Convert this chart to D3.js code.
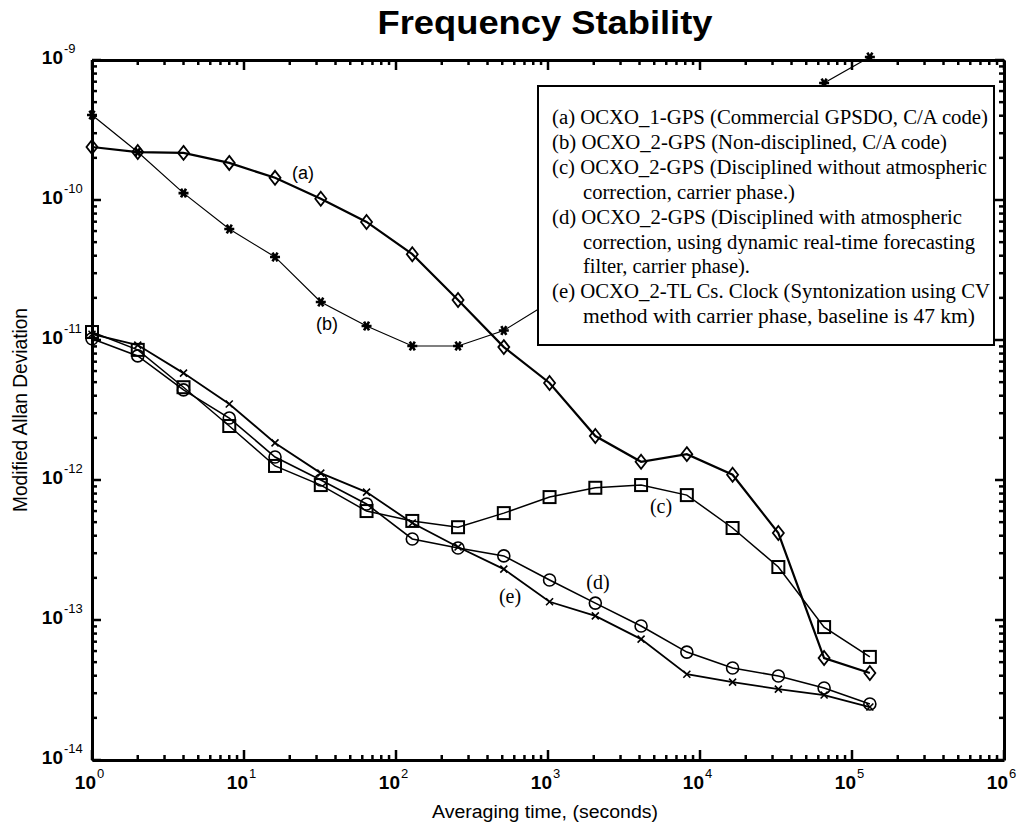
<!DOCTYPE html>
<html><head><meta charset="utf-8">
<script src="https://cdn.jsdelivr.net/npm/d3@7"></script>
<style>body{margin:0;background:#fff}svg{display:block}</style>
</head><body>
<svg id="c" width="1019" height="829"></svg>
<script>
// ---------------- data ----------------
const tau = [1,2,4,8,16,32,64,128,256,512,1024,2048,4096,8192,16384,32768,65536,131072];
const seriesA = [2.39e-10,2.2e-10,2.17e-10,1.84e-10,1.44e-10,1.02e-10,6.97e-11,4.1e-11,1.93e-11,8.9e-12,4.93e-12,2.06e-12,1.35e-12,1.53e-12,1.09e-12,4.18e-13,5.35e-14,4.18e-14];
const seriesB = [4.05e-10,2.2e-10,1.12e-10,6.2e-11,3.92e-11,1.87e-11,1.26e-11,9.06e-12,9.06e-12,1.17e-11,1.86e-11,3.0e-11,5.0e-11,9.0e-11,1.6e-10,3.0e-10,6.85e-10,1.05e-9];
const seriesC = [1.14e-11,8.5e-12,4.6e-12,2.43e-12,1.26e-12,9.2e-13,6.0e-13,5.1e-13,4.6e-13,5.8e-13,7.55e-13,8.8e-13,9.2e-13,7.8e-13,4.54e-13,2.39e-13,8.9e-14,5.45e-14];
const seriesD = [1.02e-11,7.7e-12,4.4e-12,2.77e-12,1.46e-12,1.0e-12,6.74e-13,3.79e-13,3.27e-13,2.87e-13,1.93e-13,1.32e-13,9.06e-14,5.9e-14,4.54e-14,3.98e-14,3.27e-14,2.51e-14];
const seriesE = [1.1e-11,9.2e-12,5.8e-12,3.49e-12,1.84e-12,1.12e-12,8.2e-13,4.93e-13,3.32e-13,2.31e-13,1.35e-13,1.07e-13,7.3e-14,4.1e-14,3.6e-14,3.21e-14,2.91e-14,2.39e-14];
const xExponents = [0,1,2,3,4,5,6];
const yExponents = [-14,-13,-12,-11,-10,-9];
const seriesNames = ["(a)","(b)","(c)","(d)","(e)"];
const legendLines = [
  "(a) OCXO_1-GPS (Commercial GPSDO, C/A code)",
  "(b) OCXO_2-GPS (Non-disciplined, C/A code)",
  "(c) OCXO_2-GPS (Disciplined without atmospheric",
  "correction, carrier phase.)",
  "(d) OCXO_2-GPS (Disciplined with atmospheric",
  "correction, using dynamic real-time forecasting",
  "filter, carrier phase).",
  "(e) OCXO_2-TL Cs. Clock (Syntonization using CV",
  "method  with carrier  phase, baseline is 47 km)"
];
const titleText = "Frequency Stability";
const xLabel = "Averaging time, (seconds)";
const yLabel = "Modified Allan Deviation";

// ---------------- layout ----------------
const L=92, R=1004, T=60, B=760;
const svg = d3.select("#c");
const x = d3.scaleLog().domain([1,1e6]).range([L,R]);
const y = d3.scaleLog().domain([1e-14,1e-9]).range([B,T]);

const xMaj = xExponents.map(e=>Math.pow(10,e));
const yMaj = yExponents.map(e=>Math.pow(10,e));
const xMin=[], yMin=[];
xExponents.slice(0,-1).forEach(e=>{for(let k=2;k<10;k++) xMin.push(k*Math.pow(10,e));});
yExponents.slice(0,-1).forEach(e=>{for(let k=2;k<10;k++) yMin.push(k*Math.pow(10,e));});

// axes frame via d3 axis generators (domain lines)
function styleAxis(g){
  g.selectAll("path.domain").attr("stroke","#000").attr("stroke-width",3);
  g.selectAll(".tick").remove();
}
svg.append("g").attr("transform",`translate(0,${B})`).call(d3.axisBottom(x).tickValues([]).tickSizeOuter(0)).call(styleAxis);
svg.append("g").attr("transform",`translate(0,${T})`).call(d3.axisTop(x).tickValues([]).tickSizeOuter(0)).call(styleAxis);
svg.append("g").attr("transform",`translate(${L},0)`).call(d3.axisLeft(y).tickValues([]).tickSizeOuter(0)).call(styleAxis);
svg.append("g").attr("transform",`translate(${R},0)`).call(d3.axisRight(y).tickValues([]).tickSizeOuter(0)).call(styleAxis);

// inward ticks on all four sides
const tg = svg.append("g").attr("stroke","#000").attr("stroke-width",2.5);
function xTicks(vals,len){
  vals.forEach(v=>{
    const px=x(v);
    tg.append("line").attr("x1",px).attr("x2",px).attr("y1",B).attr("y2",B-len);
    tg.append("line").attr("x1",px).attr("x2",px).attr("y1",T).attr("y2",T+len);
  });
}
function yTicks(vals,len){
  vals.forEach(v=>{
    const py=y(v);
    tg.append("line").attr("x1",L).attr("x2",L+len).attr("y1",py).attr("y2",py);
    tg.append("line").attr("x1",R).attr("x2",R-len).attr("y1",py).attr("y2",py);
  });
}
xTicks(xMaj,10); xTicks(xMin,5);
yTicks(yMaj,9); yTicks(yMin,5);

const sans = "'Liberation Sans', Arial, sans-serif";
const serif = "'Liberation Serif', 'Times New Roman', serif";

// x tick labels
xExponents.forEach(e=>{
  const px = x(Math.pow(10,e));
  svg.append("text").attr("x",px+4).attr("y",789).attr("text-anchor","end")
    .attr("font-family",sans).attr("font-weight","bold").attr("font-size",19).text("10");
  svg.append("text").attr("x",px+5).attr("y",778).attr("font-family",sans)
    .attr("font-size",13).text(String(e));
});
// y tick labels
yExponents.forEach(e=>{
  const py = y(Math.pow(10,e));
  svg.append("text").attr("x",63).attr("y",py+4).attr("text-anchor","end")
    .attr("font-family",sans).attr("font-weight","bold").attr("font-size",19).text("10");
  svg.append("text").attr("x",64).attr("y",py-7).attr("font-family",sans)
    .attr("font-size",13).text(String(e));
});

// title and axis labels
svg.append("text").attr("x",545).attr("y",34).attr("text-anchor","middle")
  .attr("font-family",sans).attr("font-weight","bold").attr("font-size",34)
  .attr("textLength",335).attr("lengthAdjust","spacingAndGlyphs").text(titleText);
svg.append("text").attr("x",545).attr("y",818).attr("text-anchor","middle")
  .attr("font-family",sans).attr("font-size",18)
  .attr("textLength",226).attr("lengthAdjust","spacingAndGlyphs").text(xLabel);
svg.append("text").attr("transform","translate(27,410) rotate(-90)").attr("text-anchor","middle")
  .attr("font-family",sans).attr("font-size",20)
  .attr("textLength",204).attr("lengthAdjust","spacingAndGlyphs").text(yLabel);

// ---------------- series ----------------
const line = d3.line().x(d=>x(d[0])).y(d=>y(d[1]));
function zip(v){return tau.map((t,i)=>[t,v[i]]);}

const markers = {
  diamond:(g,p)=>g.append("path").attr("d",`M${p[0]},${p[1]-7}L${p[0]+5.5},${p[1]}L${p[0]},${p[1]+7}L${p[0]-5.5},${p[1]}Z`).attr("fill","none").attr("stroke","#000").attr("stroke-width",1.8),
  star:(g,p)=>{const s=5;
    g.append("path").attr("d",`M${p[0]-s},${p[1]}L${p[0]+s},${p[1]}M${p[0]-s*0.5},${p[1]-s*0.87}L${p[0]+s*0.5},${p[1]+s*0.87}M${p[0]-s*0.5},${p[1]+s*0.87}L${p[0]+s*0.5},${p[1]-s*0.87}`)
      .attr("stroke","#000").attr("stroke-width",2.6).attr("fill","none");},
  square:(g,p)=>g.append("rect").attr("x",p[0]-6).attr("y",p[1]-6).attr("width",12).attr("height",12).attr("fill","none").attr("stroke","#000").attr("stroke-width",2),
  circle:(g,p)=>g.append("circle").attr("cx",p[0]).attr("cy",p[1]).attr("r",6).attr("fill","none").attr("stroke","#000").attr("stroke-width",1.6),
  cross:(g,p)=>g.append("path").attr("d",`M${p[0]-3.5},${p[1]-3.5}L${p[0]+3.5},${p[1]+3.5}M${p[0]-3.5},${p[1]+3.5}L${p[0]+3.5},${p[1]-3.5}`).attr("stroke","#000").attr("stroke-width",1.6)
};
const seriesDefs = [
  {v:seriesA,m:"diamond",w:2.2},
  {v:seriesB,m:"star",w:1.2},
  {v:seriesC,m:"square",w:1.5},
  {v:seriesD,m:"circle",w:1.6},
  {v:seriesE,m:"cross",w:1.8}
];
const plot = svg.append("g");
seriesDefs.forEach(s=>{
  const data = zip(s.v);
  plot.append("path").datum(data).attr("d",line).attr("fill","none").attr("stroke","#000").attr("stroke-width",s.w);
  const mg = plot.append("g");
  data.forEach(d=>markers[s.m](mg,[x(d[0]),y(d[1])]));
});

// series annotations
const annPos = [[303,179,sans,18],[327,330,sans,18],[661,513,serif,20],[598,589,serif,20],[510,603,serif,20]];
seriesNames.forEach((n,i)=>{
  const a=annPos[i];
  svg.append("text").attr("x",a[0]).attr("y",a[1]).attr("text-anchor","middle")
    .attr("font-family",a[2]).attr("font-size",a[3]).text(n);
});

// ---------------- legend ----------------
svg.append("rect").attr("x",538).attr("y",86).attr("width",456).attr("height",259)
  .attr("fill","#fff").attr("stroke","#000").attr("stroke-width",2);
const legendRight = [988,947,987,795,962,975,750,990,975];
legendLines.forEach((t,i)=>{
  const indent = t.startsWith("(") ? 552 : 583;
  svg.append("text").attr("x",indent).attr("y",124+i*24.9)
    .attr("font-family",serif).attr("font-size",20)
    .attr("textLength",legendRight[i]-indent).attr("lengthAdjust","spacingAndGlyphs")
    .text(t);
});
</script>
</body></html>
